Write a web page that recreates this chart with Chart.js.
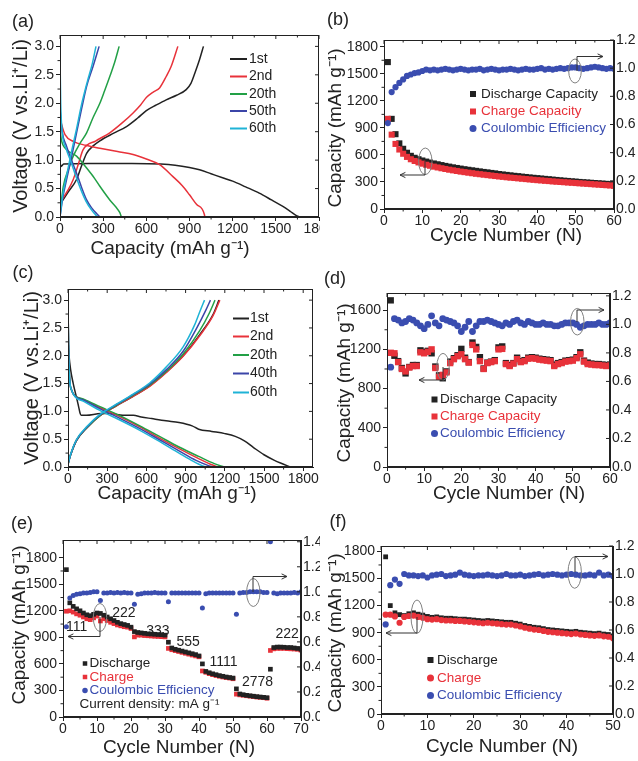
<!DOCTYPE html>
<html>
<head>
<meta charset="utf-8">
<title>Voltage profiles and cycling</title>
<script src="https://cdn.jsdelivr.net/npm/chart.js@4.4.1/dist/chart.umd.min.js"></script>
<style>
  body { margin: 0; background: #fff; }
  #page { position: relative; width: 638px; height: 761px; overflow: hidden; background: #fff; }
  #page canvas { position: absolute; }
</style>
</head>
<body>
<div id="page">
  <canvas id="pa" width="320" height="262" style="left:0px;top:0px"></canvas>
  <canvas id="pb" width="318" height="262" style="left:320px;top:0px"></canvas>
  <canvas id="pc" width="320" height="262" style="left:0px;top:250px"></canvas>
  <canvas id="pd" width="318" height="262" style="left:320px;top:250px"></canvas>
  <canvas id="pe" width="320" height="256" style="left:0px;top:505px"></canvas>
  <canvas id="pf" width="318" height="256" style="left:320px;top:505px"></canvas>
</div>
<script>
var FONT = '"Liberation Sans", Arial, Helvetica, sans-serif';
var INK = '#222';
var RED = '#e8323a';
var BLUE = '#3a4db0';
var GREEN = '#22a046';
var NAVY = '#3b45a8';
var CYAN = '#1fb3d6';

function range(a, b) { var r = []; for (var i = a; i <= b; i++) r.push(i); return r; }

// ---------- tick labels ----------
var capTicks = [0, 300, 600, 900, 1200, 1500, 1800];
var voltTicks = [0, 0.5, 1.0, 1.5, 2.0, 2.5, 3.0];
var cyc60Ticks = [0, 10, 20, 30, 40, 50, 60];
var cyc70Ticks = [0, 10, 20, 30, 40, 50, 60, 70];
var cyc50Ticks = [0, 10, 20, 30, 40, 50];
var cap300Ticks = [0, 300, 600, 900, 1200, 1500, 1800];
var cap400Ticks = [0, 400, 800, 1200, 1600];
var ce12Ticks = [0, 0.2, 0.4, 0.6, 0.8, 1.0, 1.2];
var ce14Ticks = [0, 0.2, 0.4, 0.6, 0.8, 1.0, 1.2, 1.4];

// ---------- (a) charge/discharge profiles [capacity, voltage] ----------
var aLabels = ['1st', '2nd', '20th', '50th', '60th'];
var a1stDis = [[0,0.95],[8,0.89],[25,0.93],[200,0.94],[500,0.94],[700,0.93],[800,0.91],[900,0.87],[970,0.83],[1050,0.76],[1130,0.69],[1200,0.63],[1290,0.53],[1385,0.42],[1470,0.3],[1546,0.19],[1600,0.1],[1640,0.03],[1665,0]];
var a1stChg = [[0,0.22],[60,0.45],[115,0.66],[150,0.9],[185,1.12],[230,1.25],[277,1.34],[370,1.47],[462,1.59],[540,1.74],[600,1.87],[670,1.97],[738,2.06],[810,2.14],[877,2.24],[910,2.35],[940,2.55],[970,2.77],[997,3.0]];
var a2ndDis = [[0,1.75],[12,1.62],[35,1.45],[92,1.33],[180,1.26],[277,1.21],[400,1.15],[508,1.1],[600,1.02],[692,0.92],[785,0.71],[850,0.55],[900,0.39],[950,0.22],[1004,0.04],[1006,0]];
var a2ndChg = [[0,0.25],[50,0.45],[92,0.66],[130,0.95],[160,1.18],[250,1.34],[346,1.48],[430,1.65],[508,1.83],[560,1.97],[600,2.1],[650,2.2],[692,2.27],[738,2.47],[773,2.65],[819,3.0]];
var a20Dis = [[0,1.55],[10,1.35],[40,1.2],[115,1.07],[185,0.86],[240,0.68],[277,0.54],[346,0.3],[390,0.17],[415,0.08],[427,0]];
var a20Chg = [[0,0.07],[23,0.54],[60,0.85],[92,1.07],[140,1.3],[185,1.48],[230,1.75],[277,2.0],[310,2.22],[346,2.47],[380,2.72],[411,3.0]];
var a50Dis = [[0,1.9],[15,1.5],[46,1.24],[80,1.0],[115,0.77],[150,0.52],[185,0.3],[220,0.16],[254,0.06],[277,0]];
var a50Chg = [[0,0.0],[20,0.35],[46,0.66],[80,1.05],[115,1.48],[150,1.9],[185,2.3],[230,2.65],[272,3.0]];
var a60Dis = [[0,2.82],[5,2.0],[15,1.5],[40,1.22],[75,0.98],[110,0.72],[150,0.45],[180,0.28],[220,0.12],[260,0]];
var a60Chg = [[0,0.0],[20,0.4],[45,0.72],[80,1.15],[115,1.55],[150,1.98],[190,2.38],[225,2.7],[250,3.0]];

// ---------- (b) cycling ----------
var cyclesB = range(1, 60);
var dischargeB = [1630, 1000, 830, 728, 668, 624, 590, 568, 552, 538,
  526, 515, 505, 496, 487, 478, 470, 462, 455, 448,
  441, 435, 429, 423, 417, 411, 406, 400, 395, 388,
  383, 378, 373, 368, 364, 359, 355, 350, 346, 342,
  338, 334, 330, 326, 322, 318, 314, 311, 307, 304,
  300, 297, 294, 291, 288, 285, 282, 279, 276, 273];
var chargeB = [1000, 825, 722, 660, 613, 578, 552, 533, 517, 503,
  491, 480, 470, 461, 452, 444, 436, 429, 422, 415,
  409, 403, 397, 391, 386, 381, 376, 371, 366, 361,
  357, 352, 348, 344, 340, 336, 332, 328, 324, 320,
  317, 313, 310, 306, 303, 300, 297, 294, 291, 288,
  285, 282, 279, 276, 273, 270, 267, 264, 261, 257];
var ceB = [0.61, 0.83, 0.865, 0.895, 0.92, 0.945, 0.955, 0.965, 0.97, 0.98,
  0.99, 0.985, 0.99, 0.985, 0.99, 0.995, 0.99, 0.985, 0.99, 0.995,
  0.99, 0.985, 0.99, 0.99, 0.995, 0.985, 0.99, 0.995, 0.99, 0.985,
  0.99, 0.99, 0.995, 0.99, 0.985, 0.99, 0.995, 0.99, 0.99, 0.995,
  1.0, 0.99, 0.995, 0.99, 0.995, 1.0, 0.995, 1.0, 1.005, 1.005,
  1.0, 0.995, 1.0, 1.005, 1.01, 1.005, 1.0, 0.995, 1.0, 0.995];

// ---------- (c) charge/discharge profiles ----------
var cLabels = ['1st', '2nd', '20th', '40th', '60th'];
var c1stDis = [[0,2.3],[8,2.0],[20,1.75],[40,1.5],[60,1.3],[80,1.1],[92,0.97],[100,0.93],[140,0.93],[250,0.96],[330,0.96],[420,0.93],[500,0.93],[560,0.9],[640,0.87],[750,0.83],[850,0.8],[950,0.74],[1000,0.68],[1100,0.64],[1200,0.6],[1280,0.55],[1350,0.47],[1420,0.35],[1500,0.22],[1580,0.12],[1650,0.05],[1700,0]];
var c1stChg = [[0,0.08],[20,0.22],[64,0.47],[150,0.72],[242,0.92],[370,1.1],[498,1.27],[625,1.46],[753,1.71],[881,2.0],[1008,2.38],[1110,2.74],[1155,3.0]];
var c2ndDis = [[0,3.0],[4,2.2],[12,1.6],[28,1.38],[55,1.28],[120,1.21],[250,1.06],[400,0.9],[550,0.72],[700,0.52],[850,0.33],[1000,0.15],[1090,0.05],[1150,0]];
var c2ndChg = [[0,0.05],[20,0.22],[64,0.48],[150,0.72],[242,0.92],[370,1.1],[498,1.27],[625,1.45],[753,1.7],[881,1.99],[1008,2.36],[1110,2.72],[1162,3.0]];
var c20Dis = [[0,3.0],[4,2.2],[12,1.6],[28,1.38],[55,1.28],[120,1.22],[250,1.08],[400,0.92],[550,0.74],[700,0.55],[850,0.36],[1000,0.19],[1120,0.06],[1195,0]];
var c20Chg = [[0,0.05],[20,0.22],[64,0.48],[150,0.72],[242,0.92],[370,1.11],[498,1.29],[625,1.47],[753,1.72],[881,2.03],[1008,2.45],[1080,2.76],[1125,3.0]];
var c40Dis = [[0,3.0],[4,2.2],[12,1.6],[28,1.38],[55,1.27],[120,1.2],[250,1.04],[400,0.87],[550,0.69],[700,0.49],[850,0.29],[980,0.12],[1070,0.03],[1110,0]];
var c40Chg = [[0,0.05],[20,0.22],[64,0.48],[150,0.73],[242,0.93],[370,1.12],[498,1.3],[625,1.49],[753,1.75],[881,2.08],[990,2.52],[1055,2.82],[1090,3.0]];
var c60Dis = [[0,3.0],[4,2.2],[12,1.6],[28,1.38],[55,1.26],[120,1.18],[250,1.01],[400,0.84],[550,0.66],[700,0.46],[850,0.25],[960,0.1],[1030,0.02],[1060,0]];
var c60Chg = [[0,0.05],[20,0.23],[64,0.49],[150,0.74],[242,0.94],[370,1.13],[498,1.31],[625,1.51],[753,1.8],[881,2.16],[970,2.56],[1010,2.8],[1045,3.0]];

// ---------- (d) cycling ----------
var cyclesD = range(1, 60);
var dischargeD = [1700, 1135, 1080, 1010, 955, 1020, 1040, 1040, 1190, 1175,
  1185, 1160, 1025, 935, 905, 975, 1075, 1110, 1140, 1205,
  1115, 1070, 1270, 1225, 1120, 1005, 1065, 1075, 1090, 1220,
  1230, 1060, 1040, 1060, 1115, 1080, 1090, 1115, 1120, 1115,
  1105, 1100, 1095, 1090, 1045, 1060, 1070, 1085, 1090, 1095,
  1120, 1170, 1085, 1065, 1055, 1050, 1050, 1045, 1040, 1045];
var chargeD = [1165, 1160, 1070, 1000, 975, 1015, 1030, 1030, 1170, 1160,
  1175, 1200, 1010, 920, 940, 965, 1060, 1100, 1130, 1150,
  1100, 1065, 1245, 1200, 1080, 1000, 1060, 1070, 1080, 1200,
  1205, 1050, 1030, 1055, 1100, 1070, 1080, 1105, 1110, 1105,
  1095, 1090, 1085, 1080, 1030, 1050, 1060, 1075, 1080, 1085,
  1110, 1150, 1075, 1050, 1045, 1040, 1040, 1035, 1030, 1035];
var ceD = [0.70, 1.04, 1.03, 1.01, 1.02, 1.04, 1.03, 1.01, 0.99, 0.97,
  1.00, 1.06, 1.01, 0.99, 1.04, 1.03, 1.02, 1.01, 0.99, 0.95,
  0.98, 1.02, 0.95, 0.99, 1.02, 1.02, 1.03, 1.02, 1.01, 1.00,
  0.99, 1.01, 1.00, 1.02, 1.03, 1.01, 1.00, 1.02, 1.01, 1.00,
  1.00, 1.01, 1.00, 1.00, 0.99, 0.99, 1.00, 1.01, 1.01, 1.01,
  1.00, 0.98, 0.99, 1.00, 1.00, 1.00, 1.01, 1.00, 1.00, 1.01];

// ---------- (e) rate test ----------
var cyclesE = range(1, 70);
var dischargeE = [1665, 1290, 1250, 1222, 1200, 1175, 1155, 1145, 1160, 1175,
  1170, 1150, 1130, 1110, 1090, 1070, 1055, 1045, 1035, 1015,
  965, 955, 950, 945, 940, 938, 935, 932, 930, 925,
  845, 780, 765, 755, 745, 735, 725, 715, 705, 690,
  600, 515, 500, 488, 478, 468, 460, 452, 446, 440,
  318, 260, 252, 245, 240, 235, 230, 226, 222, 218,
  540, 785, 790, 790, 788, 785, 785, 780, 775, 765];
var chargeE = [1195, 1200, 1185, 1165, 1150, 1130, 1110, 1100, 1120, 1140,
  1085, 1110, 1090, 1070, 1055, 1040, 1030, 1020, 1015, 1000,
  905, 925, 925, 920, 918, 915, 912, 910, 908, 905,
  775, 760, 750, 740, 730, 720, 710, 700, 690, 680,
  520, 505, 490, 478, 468, 460, 452, 445, 440, 432,
  258, 250, 245, 240, 235, 230, 225, 222, 218, 212,
  752, 770, 775, 775, 775, 772, 770, 768, 765, 755];
var ceE = [0.72, 0.95, 0.97, 0.98, 0.985, 0.99, 0.99, 0.995, 1.0, 1.0,
  0.93, 0.99, 0.99, 0.995, 0.99, 0.995, 0.99, 0.995, 0.99, 0.99,
  0.90, 0.98, 0.985, 0.99, 0.99, 0.99, 0.995, 0.99, 0.99, 0.99,
  0.92, 0.99, 0.99, 0.99, 0.99, 0.99, 0.99, 0.99, 0.99, 0.99,
  0.87, 0.985, 0.99, 0.99, 0.99, 0.99, 0.99, 0.99, 0.99, 0.99,
  0.82, 0.99, 0.995, 0.995, 1.0, 1.0, 1.0, 1.0, 0.995, 0.995,
  1.40, 0.99, 0.985, 0.99, 0.99, 0.99, 0.99, 0.995, 0.99, 1.0];
// current density labels: [text, cycle, capacity]
var rateNotes = [['111', 4.0, 1017], ['222', 17.9, 1170], ['333', 27.9, 972], ['555', 36.8, 848],
  ['1111', 47.2, 622], ['2778', 57.2, 396], ['222', 65.9, 938]];

// ---------- (f) cycling ----------
var cyclesF = range(1, 50);
var dischargeF = [1740, 1200, 1120, 1100, 1090, 1110, 1120, 1105, 1095, 1080,
  1070, 1075, 1065, 1060, 1060, 1055, 1050, 1050, 1045, 1040,
  1035, 1030, 1035, 1030, 1025, 1020, 1015, 1015, 1005, 995,
  980, 970, 960, 955, 945, 935, 930, 925, 920, 915,
  910, 915, 905, 900, 895, 890, 895, 885, 880, 865];
var chargeF = [1100, 1100, 1080, 1010, 1075, 1085, 1090, 1075, 1065, 1050,
  1045, 1050, 1040, 1035, 1035, 1030, 1030, 1025, 1020, 1015,
  1010, 1005, 1010, 1005, 1000, 995, 990, 990, 980, 970,
  955, 945, 935, 930, 920, 910, 905, 900, 895, 890,
  885, 890, 880, 875, 870, 865, 870, 860, 855, 840];
var ceF = [0.64, 0.92, 0.96, 0.93, 1.0, 0.99, 0.99, 0.985, 0.99, 0.975,
  0.99, 0.995, 1.0, 0.985, 0.99, 0.995, 1.01, 0.995, 0.99, 0.985,
  0.99, 0.99, 0.995, 0.99, 0.985, 0.99, 1.0, 0.99, 0.99, 0.995,
  0.985, 0.99, 0.995, 1.0, 0.99, 0.995, 1.0, 0.995, 0.99, 0.995,
  1.0, 0.995, 0.99, 0.99, 0.995, 0.99, 1.01, 0.99, 0.995, 0.985];

// ---------- helpers ----------
var decoById = {};
function fmtInt(v) { return String(v); }
function fmt1(v) { return v.toFixed(1); }

function tickSetter(list) {
  return function (s) { s.ticks = list.map(function (v) { return { value: v }; }); };
}

function xAxis(min, max, list, fmt) {
  return {
    type: 'linear', position: 'bottom', min: min, max: max,
    afterBuildTicks: tickSetter(list),
    afterFit: function (s) { s.height = 22; s.paddingLeft = 0; s.paddingRight = 0; },
    grid: { drawOnChartArea: false, drawTicks: true, tickLength: 4, color: INK },
    border: { display: true, color: INK, width: 1 },
    ticks: { padding: 0, color: INK, font: { family: FONT, size: 14 }, autoSkip: false, maxRotation: 0, callback: fmt }
  };
}

function yAxis(pos, min, max, list, fmt) {
  var left = pos === 'left';
  return {
    type: 'linear', position: pos, min: min, max: max,
    afterBuildTicks: tickSetter(list),
    afterFit: function (s) { s.width = left ? 40 : 24; s.paddingTop = 0; s.paddingBottom = 0; },
    grid: { drawOnChartArea: false, drawTicks: left, tickLength: 4, color: INK },
    border: { display: true, color: INK, width: 1 },
    ticks: { padding: 2, color: INK, font: { family: FONT, size: 14 }, autoSkip: false, callback: fmt }
  };
}

function curve(pairs, color, order) {
  return {
    data: pairs.map(function (p) { return { x: p[0], y: p[1] }; }),
    showLine: true, pointRadius: 0, borderColor: color, borderWidth: 1.5,
    cubicInterpolationMode: 'monotone', order: order, yAxisID: 'y'
  };
}

function marks(xs, ys, color, style, r, axis, order) {
  return {
    data: xs.map(function (x, i) { return { x: x, y: ys[i] }; }),
    showLine: false, pointStyle: style, pointRadius: r, pointBorderWidth: 0,
    backgroundColor: color, borderColor: color, yAxisID: axis, order: order
  };
}

function drawArrow(ctx, pts) {
  ctx.beginPath();
  ctx.moveTo(pts[0][0], pts[0][1]);
  for (var i = 1; i < pts.length; i++) ctx.lineTo(pts[i][0], pts[i][1]);
  var n = pts.length - 1;
  var ang = Math.atan2(pts[n][1] - pts[n - 1][1], pts[n][0] - pts[n - 1][0]);
  var h = 6;
  ctx.moveTo(pts[n][0] - h * Math.cos(ang - 0.45), pts[n][1] - h * Math.sin(ang - 0.45));
  ctx.lineTo(pts[n][0], pts[n][1]);
  ctx.lineTo(pts[n][0] - h * Math.cos(ang + 0.45), pts[n][1] - h * Math.sin(ang + 0.45));
  ctx.stroke();
}

var decoPlugin = {
  id: 'deco',
  afterDraw: function (chart) {
    var d = decoById[chart.canvas.id];
    var ctx = chart.ctx, a = chart.chartArea;
    var sx = chart.scales.x, sy = chart.scales.y, sr = chart.scales.y2;
    ctx.save();
    // box, inward ticks on top/right, minor ticks
    ctx.strokeStyle = INK; ctx.lineWidth = 1;
    ctx.strokeRect(Math.round(a.left) + 0.5, Math.round(a.top) + 0.5,
      Math.round(a.right - a.left) - 1, Math.round(a.bottom - a.top) - 1);
    ctx.beginPath();
    var xt = sx.ticks;
    xt.forEach(function (t, i) {
      var x = sx.getPixelForValue(t.value);
      ctx.moveTo(x, a.top); ctx.lineTo(x, a.top + 4);
      if (i > 0) {
        var m = sx.getPixelForValue((t.value + xt[i - 1].value) / 2);
        ctx.moveTo(m, a.bottom); ctx.lineTo(m, a.bottom + 2.5);
        ctx.moveTo(m, a.top); ctx.lineTo(m, a.top + 2.5);
      }
    });
    var yt = sy.ticks;
    yt.forEach(function (t, i) {
      if (i > 0) {
        var m = sy.getPixelForValue((t.value + yt[i - 1].value) / 2);
        ctx.moveTo(a.left, m); ctx.lineTo(a.left - 2.5, m);
      }
    });
    var side = sr || sy;
    side.ticks.forEach(function (t) {
      var y = side.getPixelForValue(t.value);
      ctx.moveTo(a.right, y); ctx.lineTo(a.right - 4, y);
    });
    ctx.stroke();

    // labels placed through the data scales
    ctx.fillStyle = INK; ctx.textAlign = 'center'; ctx.textBaseline = 'middle';
    ctx.font = '14px ' + FONT;
    (d.notes || []).forEach(function (n) {
      ctx.fillText(n[0], sx.getPixelForValue(n[1]), sy.getPixelForValue(n[2]));
    });

    // page-coordinate decorations
    ctx.translate(-d.ox, -d.oy);
    ctx.font = '18px ' + FONT;
    ctx.fillText(d.letter[0], d.letter[1], d.letter[2]);
    ctx.textBaseline = 'alphabetic';
    ctx.font = '19px ' + FONT;
    ctx.fillText(d.xTitle[0], d.xTitle[1], d.xTitle[2]);
    ctx.save();
    ctx.textBaseline = 'middle';
    ctx.font = (d.yTitle[3] || 19) + 'px ' + FONT;
    ctx.translate(d.yTitle[1], d.yTitle[2]);
    ctx.rotate(-Math.PI / 2);
    ctx.fillText(d.yTitle[0], 0, 0);
    ctx.restore();

    var L = d.legend;
    ctx.textBaseline = 'middle';
    ctx.font = L.size + 'px ' + FONT;
    ctx.textAlign = 'left';
    L.items.forEach(function (it) {
      ctx.fillStyle = it.color; ctx.strokeStyle = it.color;
      if (it.kind === 'line') {
        ctx.lineWidth = 2;
        ctx.beginPath(); ctx.moveTo(L.mx, it.y); ctx.lineTo(L.mx + L.len, it.y); ctx.stroke();
      } else if (it.kind === 'rect') {
        ctx.fillRect(L.mx - L.m / 2, it.y - L.m / 2, L.m, L.m);
      } else if (it.kind === 'circle') {
        ctx.beginPath(); ctx.arc(L.mx, it.y, L.m / 2 + 0.5, 0, 2 * Math.PI); ctx.fill();
      }
      ctx.fillStyle = it.textColor || it.color;
      ctx.fillText(it.text, it.tx || L.tx, it.y);
    });

    ctx.lineWidth = 1;
    (d.ovals || []).forEach(function (o) {
      ctx.strokeStyle = '#808080';
      ctx.beginPath(); ctx.ellipse(o[0], o[1], o[2], o[3], 0, 0, 2 * Math.PI); ctx.stroke();
    });
    ctx.strokeStyle = '#333';
    (d.arrows || []).forEach(function (p) { drawArrow(ctx, p); });
    ctx.restore();
  }
};

function panel(id, box, area, scales, datasets, deco) {
  deco.ox = box[0]; deco.oy = box[1];
  decoById[id] = deco;
  var pad = {
    left: area[0] - box[0] - 40,
    top: area[1] - box[1],
    right: box[0] + box[2] - area[2] - (scales.y2 ? 24 : 0),
    bottom: box[1] + box[3] - area[3] - 22
  };
  return new Chart(document.getElementById(id), {
    type: 'scatter',
    data: { datasets: datasets },
    options: {
      responsive: false, animation: false, events: [],
      layout: { padding: pad },
      plugins: { legend: { display: false }, tooltip: { enabled: false } },
      scales: scales
    },
    plugins: [decoPlugin]
  });
}

var VOLT_T = 'Voltage (V vs.Li\u207A/Li)';
var CAP_T = 'Capacity (mAh g\u207B\u00B9)';
var CYC_T = 'Cycle Number (N)';

// (a)
panel('pa', [0, 0, 320, 262], [60, 35, 319, 217],
  { x: xAxis(0, 1800, capTicks, fmtInt), y: yAxis('left', 0, 3.2, voltTicks, fmt1) },
  [curve(a1stDis, INK, 5), curve(a1stChg, INK, 5), curve(a2ndDis, RED, 4), curve(a2ndChg, RED, 4),
   curve(a20Dis, GREEN, 3), curve(a20Chg, GREEN, 3), curve(a50Dis, NAVY, 2), curve(a50Chg, NAVY, 2),
   curve(a60Dis, CYAN, 1), curve(a60Chg, CYAN, 1)],
  { letter: ['(a)', 23, 22], xTitle: [CAP_T, 170, 254], yTitle: [VOLT_T, 21.5, 126, 20],
    legend: { size: 14, mx: 230, len: 17, tx: 249, items: [
      { kind: 'line', color: INK, text: aLabels[0], y: 59 },
      { kind: 'line', color: RED, text: aLabels[1], textColor: INK, y: 76.5 },
      { kind: 'line', color: GREEN, text: aLabels[2], textColor: INK, y: 94 },
      { kind: 'line', color: NAVY, text: aLabels[3], textColor: INK, y: 111 },
      { kind: 'line', color: CYAN, text: aLabels[4], textColor: INK, y: 128.5 }] } });

// (b)
panel('pb', [320, 0, 318, 262], [384, 40, 614, 209],
  { x: xAxis(0, 60, cyc60Ticks, fmtInt), y: yAxis('left', 0, 1875, cap300Ticks, fmtInt),
    y2: yAxis('right', 0, 1.2, ce12Ticks, fmt1) },
  [marks(cyclesB, dischargeB, INK, 'rect', 4.3, 'y', 3),
   marks(cyclesB, chargeB, RED, 'rect', 4.3, 'y', 2),
   marks(cyclesB, ceB, BLUE, 'circle', 3.1, 'y2', 1)],
  { letter: ['(b)', 338, 20], xTitle: [CYC_T, 506, 241], yTitle: [CAP_T, 336, 128],
    legend: { size: 13.5, mx: 473, m: 6, tx: 481, items: [
      { kind: 'rect', color: INK, text: 'Discharge Capacity', y: 94 },
      { kind: 'rect', color: RED, text: 'Charge Capacity', y: 111.5 },
      { kind: 'circle', color: BLUE, text: 'Coulombic Efficiency', y: 128.5 }] },
    ovals: [[575, 71, 6.3, 12], [425.3, 161.3, 6.7, 13.3]],
    arrows: [[[577, 71], [577, 56.5], [603, 56.5]], [[425, 161], [425, 175], [400, 175]]] });

// (c)
panel('pc', [0, 250, 320, 262], [68, 289, 313, 467],
  { x: xAxis(0, 1875, capTicks, fmtInt), y: yAxis('left', 0, 3.2, voltTicks, fmt1) },
  [curve(c1stDis, INK, 5), curve(c1stChg, INK, 5), curve(c2ndDis, RED, 4), curve(c2ndChg, RED, 4),
   curve(c20Dis, GREEN, 3), curve(c20Chg, GREEN, 3), curve(c40Dis, NAVY, 2), curve(c40Chg, NAVY, 2),
   curve(c60Dis, CYAN, 1), curve(c60Chg, CYAN, 1)],
  { letter: ['(c)', 23, 273], xTitle: [CAP_T, 177, 499], yTitle: [VOLT_T, 32, 378, 20],
    legend: { size: 14, mx: 233, len: 16, tx: 250, items: [
      { kind: 'line', color: INK, text: cLabels[0], y: 318.5 },
      { kind: 'line', color: RED, text: cLabels[1], textColor: INK, y: 336.5 },
      { kind: 'line', color: GREEN, text: cLabels[2], textColor: INK, y: 355 },
      { kind: 'line', color: NAVY, text: cLabels[3], textColor: INK, y: 373.5 },
      { kind: 'line', color: CYAN, text: cLabels[4], textColor: INK, y: 392.5 }] } });

// (d)
panel('pd', [320, 250, 318, 262], [387, 293, 610, 467],
  { x: xAxis(0, 60, cyc60Ticks, fmtInt), y: yAxis('left', 0, 1775, cap400Ticks, fmtInt),
    y2: yAxis('right', 0, 1.22, ce12Ticks, fmt1) },
  [marks(cyclesD, dischargeD, INK, 'rect', 4.5, 'y', 3),
   marks(cyclesD, chargeD, RED, 'rect', 4.5, 'y', 2),
   marks(cyclesD, ceD, BLUE, 'circle', 3.4, 'y2', 1)],
  { letter: ['(d)', 335, 279], xTitle: [CYC_T, 509, 499], yTitle: [CAP_T, 344.5, 383],
    legend: { size: 13.5, mx: 434.5, m: 6, tx: 440, items: [
      { kind: 'rect', color: INK, text: 'Discharge Capacity', y: 399.5 },
      { kind: 'rect', color: RED, text: 'Charge Capacity', y: 416.5 },
      { kind: 'circle', color: BLUE, text: 'Coulombic Efficiency', y: 433.5 }] },
    ovals: [[443, 366.7, 6.2, 13.3], [577.3, 321.7, 6.7, 13.3]],
    arrows: [[[443, 367], [443, 380], [419, 380]], [[577, 322], [577, 310], [604, 310]]] });

// (e)
panel('pe', [0, 505, 320, 256], [63, 540, 301, 717],
  { x: xAxis(0, 70, cyc70Ticks, fmtInt), y: yAxis('left', 0, 2000, cap300Ticks, fmtInt),
    y2: yAxis('right', 0, 1.414, ce14Ticks, fmt1) },
  [marks(cyclesE, dischargeE, INK, 'rect', 3.3, 'y', 2),
   marks(cyclesE, chargeE, RED, 'rect', 3.3, 'y', 3),
   marks(cyclesE, ceE, BLUE, 'circle', 2.5, 'y2', 1)],
  { letter: ['(e)', 22, 524], xTitle: [CYC_T, 179, 753], yTitle: [CAP_T, 20, 625],
    notes: rateNotes,
    legend: { size: 13.5, mx: 85, m: 4.5, tx: 89.5, items: [
      { kind: 'rect', color: INK, text: 'Discharge', y: 663.5 },
      { kind: 'rect', color: RED, text: 'Charge', y: 677 },
      { kind: 'circle', color: BLUE, text: 'Coulombic Efficiency', y: 690.5 },
      { kind: 'none', color: INK, text: 'Current density: mA g\u207B\u00B9', tx: 79.5, y: 704 }] },
    ovals: [[100, 617.5, 6.7, 14], [253.3, 592.5, 6.7, 14]],
    arrows: [[[100, 617], [100, 636.5], [68, 636.5]], [[253, 592], [253, 576.5], [287, 576.5]]] });

// (f)
panel('pf', [320, 505, 318, 256], [381, 546, 613, 714],
  { x: xAxis(0, 50, cyc50Ticks, fmtInt), y: yAxis('left', 0, 1860, cap300Ticks, fmtInt),
    y2: yAxis('right', 0, 1.2, ce12Ticks, fmt1) },
  [marks(cyclesF, dischargeF, INK, 'rect', 3.4, 'y', 3),
   marks(cyclesF, chargeF, RED, 'circle', 3.1, 'y', 2),
   marks(cyclesF, ceF, BLUE, 'circle', 3.1, 'y2', 1)],
  { letter: ['(f)', 338, 522], xTitle: [CYC_T, 502, 752], yTitle: [CAP_T, 336, 633],
    legend: { size: 13.5, mx: 430.5, m: 6, tx: 437, items: [
      { kind: 'rect', color: INK, text: 'Discharge', y: 660 },
      { kind: 'circle', color: RED, text: 'Charge', y: 678 },
      { kind: 'circle', color: BLUE, text: 'Coulombic Efficiency', y: 695.5 }] },
    ovals: [[417, 616.7, 6, 16.7], [574.7, 572.5, 6.7, 15.8]],
    arrows: [[[417, 617], [417, 633], [386, 633]], [[575, 572], [575, 556.5], [608, 556.5]]] });
</script>
</body>
</html>
